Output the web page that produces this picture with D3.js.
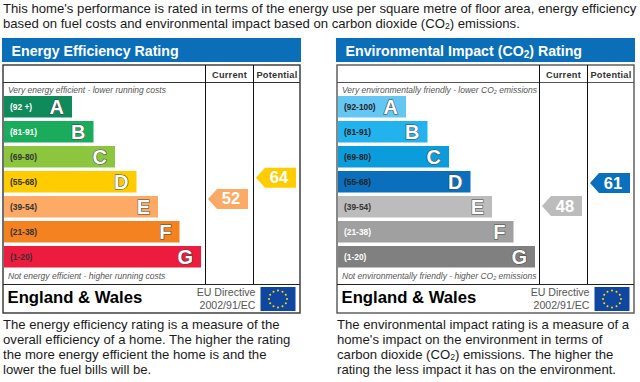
<!DOCTYPE html>
<html><head><meta charset="utf-8">
<script src="https://cdn.jsdelivr.net/npm/d3@7"></script>
<style>
html,body{margin:0;padding:0;background:#fff}
svg{display:block}
text{font-family:"Liberation Sans",Arial,sans-serif}
</style></head><body>
<svg id="c" width="640" height="382"></svg>
<script>
const bandLetters = ["A","B","C","D","E","F","G"];
const bandRanks = [1,2,3,4,5,6,7];
const energyRanges = ["(92 +)","(81-91)","(69-80)","(55-68)","(39-54)","(21-38)","(1-20)"];
const envRanges = ["(92-100)","(81-91)","(69-80)","(55-68)","(39-54)","(21-38)","(1-20)"];
const energyColors = ["#0f8a5b","#1bab5c","#8cc63f","#ffcc00","#fcaa65","#f58220","#ed1b3d"];
const envColors = ["#63c6f3","#22b3ee","#0b9cdb","#0a6fbc","#bcbcbc","#a0a0a0","#808080"];
const energyRangeFill = ["#fff","#fff","#333","#333","#333","#333","#333"];
const envRangeFill = ["#222","#222","#222","#222","#333","#fff","#fff"];
const energyScores = {current:52, potential:64};
const envScores = {current:48, potential:61};
const introLines = ["This home's performance is rated in terms of the energy use per square metre of floor area, energy efficiency",
  ["based on fuel costs and environmental impact based on carbon dioxide (CO","2",") emissions."]];
const energyNotes = ["The energy efficiency rating is a measure of the","overall efficiency of a home. The higher the rating","the more energy efficient the home is and the","lower the fuel bills will be."];
const envNotes = ["The environmental impact rating is a measure of a","home's impact on the environment in terms of",["carbon dioxide (CO","2",") emissions. The higher the"],"rating the less impact it has on the environment."];

const svg = d3.select("#c");
const ink = "#1a1a1a";

function rich(sel, parts, subSize){
  if(typeof parts === "string"){ sel.text(parts); return; }
  parts.forEach((p,i)=>{
    const t = sel.append("tspan").text(p);
    if(i===1) t.attr("font-size",subSize).attr("dy",subSize*0.22);
    if(i===2) t.attr("dy",-subSize*0.22);
  });
}
introLines.forEach((l,i)=>{
  const t = svg.append("text").attr("x",3).attr("y",[13,27.5][i]).attr("font-size",13.15).attr("fill",ink);
  rich(t,l,8.6);
});

const yBand = d3.scaleBand().domain(bandLetters).range([96,267.5]).paddingInner(0.14).paddingOuter(0);
const xLen = d3.scaleLinear().domain([1,7]).range([68,197]);
const yScore = d3.scaleLinear().domain([0,100]).range([291,114]);

function panel(o){
  const g = svg.append("g").attr("transform",`translate(${o.dx},0)`);
  g.append("rect").attr("x",2).attr("y",38).attr("width",299).attr("height",24).attr("fill","#0a6fb8");
  const title = g.append("text").attr("x",11.5).attr("y",55.5).attr("font-size",14.2).attr("font-weight","bold").attr("fill","#fff");
  rich(title,o.title,10);
  const line = o.frame;
  g.append("rect").attr("x",3).attr("y",65).attr("width",297).attr("height",248).attr("fill","#fff").attr("stroke",line).attr("stroke-width",1.4);
  g.append("line").attr("x1",3).attr("x2",300).attr("y1",82.5).attr("y2",82.5).attr("stroke",line).attr("stroke-width",1.2);
  g.append("line").attr("x1",3).attr("x2",300).attr("y1",284.5).attr("y2",284.5).attr("stroke","#222").attr("stroke-width",1);
  [205.5,253.5].forEach(x=>g.append("line").attr("x1",x).attr("x2",x).attr("y1",65).attr("y2",284).attr("stroke","#111").attr("stroke-width",1));
  [["Current",229.5],["Potential",277]].forEach(d=>g.append("text").attr("x",d[1]).attr("y",78).attr("text-anchor","middle").attr("font-size",9.2).attr("font-weight","bold").attr("letter-spacing",0.25).attr("fill","#333").text(d[0]));
  [[o.top,93],[o.bottom,279]].forEach(d=>{
    const t=g.append("text").attr("x",8).attr("y",d[1]).attr("font-size",8.5).attr("font-style","italic").attr("fill","#555");
    rich(t,d[0],5.5);
  });
  const rows = bandLetters.map((l,i)=>({l,rank:bandRanks[i],range:o.ranges[i],col:o.colors[i],rf:o.rangeFill[i]}));
  const b = g.selectAll("g.bar").data(rows).join("g").attr("class","bar");
  b.append("rect").attr("x",4).attr("y",d=>yBand(d.l)).attr("width",d=>xLen(d.rank)).attr("height",yBand.bandwidth()).attr("fill",d=>d.col);
  b.append("text").attr("x",10).attr("y",d=>yBand(d.l)+yBand.bandwidth()/2+3).attr("font-size",8.4).attr("font-weight","bold").attr("fill",d=>d.rf).text(d=>d.range);
  b.append("text").attr("x",d=>4+xLen(d.rank)-8).attr("y",d=>yBand(d.l)+yBand.bandwidth()/2+7)
    .attr("text-anchor","end").attr("font-size",20).attr("font-weight","bold")
    .attr("fill","#fff").attr("stroke","#444").attr("stroke-width",1.1).attr("paint-order","stroke")
    .text(d=>d.l);
  [[o.scores.current,208,o.curCol],[o.scores.potential,256,o.potCol]].forEach(a=>{
    const y=yScore(a[0]), x=a[1];
    const path=d3.path();
    path.moveTo(x,y); path.lineTo(x+9,y-10); path.lineTo(x+40,y-10); path.lineTo(x+40,y+10); path.lineTo(x+9,y+10); path.closePath();
    g.append("path").attr("d",path.toString()).attr("fill",a[2]);
    g.append("text").attr("x",x+23).attr("y",y+5.5).attr("text-anchor","middle").attr("font-size",16.5).attr("font-weight","bold").attr("fill","#fff").text(a[0]);
  });
  g.append("text").attr("x",7.5).attr("y",303).attr("font-size",16.7).attr("font-weight","bold").attr("fill","#000").text("England & Wales");
  g.append("text").attr("x",255.5).attr("y",296).attr("text-anchor","end").attr("font-size",10.6).attr("fill","#555").text("EU Directive");
  g.append("text").attr("x",255.5).attr("y",309).attr("text-anchor","end").attr("font-size",10.6).attr("fill","#555").text("2002/91/EC");
  g.append("rect").attr("x",260.5).attr("y",287).attr("width",35).attr("height",24).attr("fill","#0f47a0");
  const stars=d3.range(12);
  g.selectAll("circle.s").data(stars).join("circle").attr("class","s").attr("r",1)
    .attr("cx",d=>278+9*Math.cos(d*Math.PI/6)).attr("cy",d=>299+8.5*Math.sin(d*Math.PI/6)).attr("fill","#ffdd00");
  o.notes.forEach((l,i)=>{
    const t=g.append("text").attr("x",o.noteX).attr("y",328.5+i*15).attr("font-size",13.15).attr("fill",ink);
    rich(t,l,8.6);
  });
}
panel({dx:0,title:"Energy Efficiency Rating",top:"Very energy efficient - lower running costs",bottom:"Not energy efficient - higher running costs",
  ranges:energyRanges,colors:energyColors,rangeFill:energyRangeFill,scores:energyScores,curCol:"#fcaa65",potCol:"#ffcc00",notes:energyNotes,frame:"#333",noteX:3});
panel({dx:334,title:["Environmental Impact (CO","2",") Rating"],top:["Very environmentally friendly - lower CO","2"," emissions"],bottom:["Not environmentally friendly - higher CO","2"," emissions"],
  ranges:envRanges,colors:envColors,rangeFill:envRangeFill,scores:envScores,curCol:"#bcbcbc",potCol:"#0a6fbc",notes:envNotes,frame:"#555",noteX:3});
</script>
</body></html>
